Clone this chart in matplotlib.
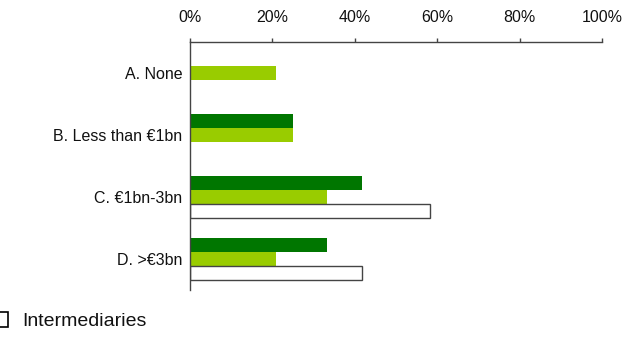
import matplotlib.pyplot as plt
from matplotlib.patches import Patch
import numpy as np

plt.rcParams['font.family'] = ['Liberation Sans', 'DejaVu Sans']

categories = ['A. None', 'B. Less than €1bn', 'C. €1bn-3bn', 'D. >€3bn']
issuers = [0, 25.0, 41.7, 33.3]
investors = [20.8, 25.0, 33.3, 20.8]
intermediaries = [0, 0, 58.3, 41.7]

dark = '#007600'
light = '#99cc00'

fig = plt.figure(figsize=(6.34, 3.39), dpi=100)
ax = fig.add_axes([190/634, 1 - 290/339, 412/634, 248/339])

y = np.arange(len(categories))
h = 0.225
ax.barh(y - h, issuers, height=h, color=dark, label='Issuers')
ax.barh(y, investors, height=h, color=light, label='Investors')
# white bars only where there is a value
iv = np.array(intermediaries)
ax.barh(y[iv > 0] + h, iv[iv > 0], height=h, color='white',
        edgecolor='#444444', linewidth=1.0, label='Intermediaries')

ax.set_xlim(0, 100)
ax.set_ylim(3.5, -0.5)
ax.set_xticks([0, 20, 40, 60, 80, 100])
ax.set_xticklabels(['0%', '20%', '40%', '60%', '80%', '100%'])
ax.set_yticks(y)
ax.set_yticklabels(categories)
ax.xaxis.tick_top()
ax.tick_params(axis='x', direction='out', length=3, width=1, colors='#444444',
               labelcolor='#111111', labelsize=11.5, pad=9)
ax.tick_params(axis='y', length=0, labelsize=11.5, labelcolor='#111111', pad=5.5)
for s in ['right', 'bottom']:
    ax.spines[s].set_visible(False)
for s in ['top', 'left']:
    ax.spines[s].set_color('#444444')
    ax.spines[s].set_linewidth(1.0)

handle = Patch(facecolor='white', edgecolor='black', linewidth=1.2)
fig.legend([handle], ['Intermediaries'], loc='center left',
           bbox_to_anchor=(-0.045, 1 - 321/339), frameon=False,
           fontsize=14, handlelength=1.0, handleheight=0.85, handletextpad=0.7,
           labelcolor='#111111')

fig.savefig('out.png', dpi=100)
